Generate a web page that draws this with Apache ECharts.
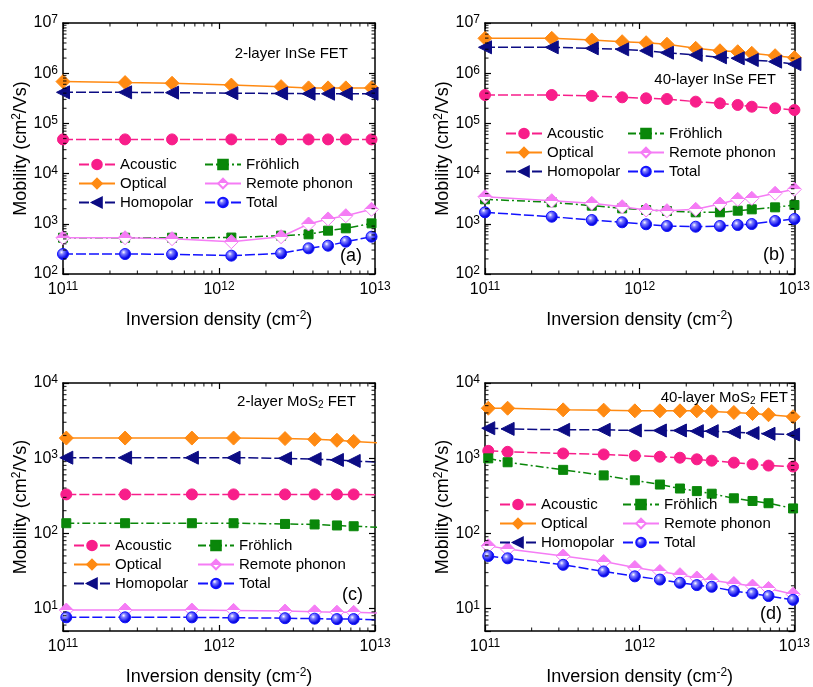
<!DOCTYPE html>
<html><head><meta charset="utf-8">
<script src="https://cdn.jsdelivr.net/npm/echarts@6/dist/echarts.min.js"></script>
<style>html,body{margin:0;padding:0;background:#fff}#c{width:813px;height:687px}</style>
</head><body><div id="c"></div>
<script>
const FONT = 'Liberation Sans, Arial, sans-serif';
const seriesNames = ['Acoustic', 'Fröhlich', 'Optical', 'Remote phonon', 'Homopolar', 'Total'];

// (a) 2-layer InSe
const nA = [1e11, 2.5e11, 5e11, 1.2e12, 2.5e12, 3.75e12, 5e12, 6.5e12, 9.5e12];
const aAcoustic = [48000, 48000, 48000, 48000, 48000, 48000, 48000, 48000, 48000];
const aFrohlich = [528, 528, 528, 532, 580, 617, 730, 813, 1020];
const aOptical = [6.8e5, 6.5e5, 6.3e5, 5.8e5, 5.4e5, 5.1e5, 5.1e5, 5.1e5, 5.1e5];
const aRemote = [528, 528, 505, 440, 553, 990, 1250, 1450, 1945];
const aHomopolar = [4.16e5, 4.16e5, 4.1e5, 4.0e5, 3.95e5, 3.9e5, 3.9e5, 3.9e5, 3.9e5];
const aTotal = [250, 250, 247, 232, 258, 325, 366, 440, 553];

// (b) 40-layer InSe
const nB = [1e11, 2.7e11, 4.9e11, 7.7e11, 1.1e12, 1.5e12, 2.3e12, 3.3e12, 4.3e12, 5.3e12, 7.5e12, 1e13];
const bAcoustic = [3.68e5, 3.68e5, 3.52e5, 3.31e5, 3.16e5, 3.06e5, 2.71e5, 2.51e5, 2.33e5, 2.15e5, 2.0e5, 1.85e5];
const bFrohlich = [3076, 2680, 2296, 2033, 1882, 1797, 1694, 1694, 1824, 1941, 2128, 2365];
const bOptical = [4.95e6, 4.95e6, 4.58e6, 4.24e6, 4.05e6, 3.77e6, 3.13e6, 2.8e6, 2.68e6, 2.49e6, 2.23e6, 2.04e6];
const bRemote = [3467, 2884, 2557, 2193, 1882, 1824, 1941, 2477, 3076, 3222, 4055, 4870];
const bHomopolar = [3.28e6, 3.28e6, 3.13e6, 2.99e6, 2.8e6, 2.56e6, 2.31e6, 2.07e6, 1.98e6, 1.83e6, 1.7e6, 1.52e6];
const bTotal = [1694, 1384, 1190, 1072, 978, 904, 875, 904, 946, 990, 1137, 1248];

// (c) 2-layer MoS2
const nC = [1.05e11, 2.5e11, 6.7e11, 1.24e12, 2.65e12, 4.1e12, 5.7e12, 7.3e12, 1.15e13];
const cAcoustic = [329, 329, 329, 329, 329, 329, 329, 329, 325];
const cFrohlich = [136, 136, 136, 136, 133, 131, 127, 124, 119];
const cOptical = [1850, 1850, 1850, 1850, 1820, 1780, 1730, 1670, 1580];
const cRemote = [9.5, 9.5, 9.5, 9.4, 9.2, 9.0, 8.9, 8.85, 8.6];
const cHomopolar = [1014, 1014, 1014, 1014, 993, 973, 945, 917, 875];
const cTotal = [7.6, 7.6, 7.6, 7.5, 7.4, 7.3, 7.2, 7.2, 7.0];

// (d) 40-layer MoS2
const nD = [1.05e11, 1.4e11, 3.2e11, 5.85e11, 9.3e11, 1.35e12, 1.82e12, 2.34e12, 2.92e12, 4.06e12, 5.36e12, 6.8e12, 9.8e12];
const dAcoustic = [1250, 1213, 1153, 1120, 1076, 1044, 1013, 964, 925, 871, 828, 796, 773];
const dFrohlich = [993, 881, 698, 589, 507, 445, 394, 364, 336, 292, 269, 251, 214];
const dOptical = [4615, 4615, 4390, 4350, 4260, 4260, 4260, 4260, 4175, 4050, 3930, 3780, 3555];
const dRemote = [68, 61.5, 49.8, 42, 35, 31, 28.1, 25.4, 23.7, 21.4, 19.8, 18.4, 15.4];
const dHomopolar = [2500, 2450, 2380, 2380, 2333, 2333, 2333, 2285, 2285, 2218, 2153, 2110, 2066];
const dTotal = [49.8, 46.4, 38, 31, 26.7, 24.2, 21.9, 20.4, 19.4, 17, 15.8, 14.6, 13];

// axis ranges and minor tick multipliers
const xRange = [1e11, 1e13];
const yRangeInSe = [1e2, 1e7];
const yRangeMoS2 = [5, 1e4];
const minorMult = [2, 3, 4, 5, 6, 7, 8, 9];
const xDecades = [1e11, 1e12];
const yDecadesInSe = [1e2, 1e3, 1e4, 1e5, 1e6];
const yDecadesMoS2 = [1, 10, 100, 1000];

function minorTicks(decades, lo, hi) {
  const out = [];
  decades.forEach(d => minorMult.forEach(m => { const v = d * m; if (v > lo * 1.0001 && v < hi * 0.9999) out.push(v); }));
  return out;
}

const pink = '#f81e8a', green = '#0a870a', orange = '#ff8a12', violet = '#f57cf5', navy = '#0c0c84', blue = '#1212ff';
const styles = {
  'Acoustic': { color: pink, fill: pink, symbol: 'circle', size: 11, dash: [10, 3] },
  'Fröhlich': { color: green, fill: green, symbol: 'rect', size: 9, dash: [8, 3, 2, 3] },
  'Optical': { color: orange, fill: orange, symbol: 'diamond', size: 14, dash: 'solid' },
  'Remote phonon': { color: violet, fill: { type: 'linear', x: 0, y: 0, x2: 0, y2: 1, colorStops: [
      { offset: 0, color: violet }, { offset: 0.5, color: violet }, { offset: 0.5, color: '#ffffff' }, { offset: 1, color: '#ffffff' }] },
    symbol: 'diamond', size: 14, dash: 'solid' },
  'Homopolar': { color: navy, fill: navy, symbol: 'triangle', size: 13, rotate: 90, dash: [10, 3] },
  'Total': { color: blue, fill: { type: 'radial', x: 0.38, y: 0.35, r: 0.7, colorStops: [
      { offset: 0, color: '#ffffff' }, { offset: 0.25, color: '#8080ff' }, { offset: 0.7, color: '#1010ee' }, { offset: 1, color: '#0000b0' }] },
    symbol: 'circle', size: 11, dash: [10, 3] }
};

const panels = [
  { n: nA, vals: [aAcoustic, aFrohlich, aOptical, aRemote, aHomopolar, aTotal], yr: yRangeInSe, yd: yDecadesInSe,
    grid: { left: 63, top: 23, width: 312, height: 251 },
    title: '{t|2-layer InSe FET}', tPos: { right: 465, top: 46 }, tag: '(a)', tagPos: { right: 451, top: 247 },
    leg1: { left: 78, top: 157 }, leg2: { left: 204, top: 157 } },
  { n: nB, vals: [bAcoustic, bFrohlich, bOptical, bRemote, bHomopolar, bTotal], yr: yRangeInSe, yd: yDecadesInSe,
    grid: { left: 485, top: 23, width: 313, height: 251 },
    title: '{t|40-layer InSe FET}', tPos: { right: 37, top: 72 }, tag: '(b)', tagPos: { right: 28, top: 246 },
    leg1: { left: 505, top: 126 }, leg2: { left: 627, top: 126 } },
  { n: nC, vals: [cAcoustic, cFrohlich, cOptical, cRemote, cHomopolar, cTotal], yr: yRangeMoS2, yd: yDecadesMoS2,
    grid: { left: 63, top: 383, width: 312, height: 251 },
    title: '{t|2-layer MoS}{sub|2}{t| FET}', tPos: { right: 457, top: 393 }, tag: '(c)', tagPos: { right: 450, top: 586 },
    leg1: { left: 73, top: 538 }, leg2: { left: 197, top: 538 } },
  { n: nD, vals: [dAcoustic, dFrohlich, dOptical, dRemote, dHomopolar, dTotal], yr: yRangeMoS2, yd: yDecadesMoS2,
    grid: { left: 485, top: 383, width: 313, height: 251 },
    title: '{t|40-layer MoS}{sub|2}{t| FET}', tPos: { right: 25, top: 389 }, tag: '(d)', tagPos: { right: 31, top: 605 },
    leg1: { left: 499, top: 497 }, leg2: { left: 622, top: 497 } }
];

const richTick = {
  b: { fontSize: 16, fontFamily: FONT, color: '#000' },
  s: { fontSize: 12, fontFamily: FONT, color: '#000', verticalAlign: 'top', padding: [0, 0, 6, 0] }
};
function powFmt(v) {
  const l = Math.log10(v), e = Math.round(l);
  if (Math.abs(l - e) > 1e-6) return '';
  return '{b|10}{s|' + e + '}';
}
const richName = {
  t: { fontSize: 18, fontFamily: FONT, color: '#000' },
  s: { fontSize: 12, fontFamily: FONT, color: '#000', padding: [0, 0, 8, 0] }
};

const option = { animation: false, backgroundColor: '#fff', grid: [], xAxis: [], yAxis: [], series: [], title: [], legend: [] };
const axisLine = { show: true, onZero: false, lineStyle: { color: '#000', width: 1.5 } };
const axisTick = { show: true, inside: true, length: 6, lineStyle: { color: '#000', width: 1.2 } };

panels.forEach((p, pi) => {
  option.grid.push(Object.assign({ containLabel: false }, p.grid));
  option.xAxis.push({ type: 'log', logBase: 10, gridIndex: pi, min: xRange[0], max: xRange[1], position: 'bottom',
    axisLine, axisTick, splitLine: { show: false },
    axisLabel: { formatter: powFmt, rich: richTick, margin: 7, showMinLabel: true, showMaxLabel: true },
    name: '{t|Inversion density (cm}{s|-2}{t|)}', nameLocation: 'middle', nameGap: 36,
    nameTextStyle: { rich: richName } });
  option.xAxis.push({ type: 'log', logBase: 10, gridIndex: pi, min: xRange[0], max: xRange[1], position: 'top',
    axisLine, axisTick, axisLabel: { show: false }, splitLine: { show: false } });
  option.yAxis.push({ type: 'log', logBase: 10, gridIndex: pi, min: p.yr[0], max: p.yr[1], position: 'left',
    axisLine, axisTick, splitLine: { show: false },
    axisLabel: { formatter: powFmt, rich: richTick, margin: 5 },
    name: '{t|Mobility (cm}{s|2}{t|/Vs)}', nameLocation: 'middle', nameGap: 30, nameRotate: 90,
    nameTextStyle: { rich: richName } });
  option.yAxis.push({ type: 'log', logBase: 10, gridIndex: pi, min: p.yr[0], max: p.yr[1], position: 'right',
    axisLine, axisTick, axisLabel: { show: false }, splitLine: { show: false } });

  const xi = pi * 2, yi = pi * 2;
  seriesNames.forEach((name, si) => {
    const st = styles[name];
    option.series.push({
      type: 'line', name, xAxisIndex: xi, yAxisIndex: yi,
      data: p.n.map((x, i) => [x, p.vals[si][i]]),
      symbol: st.symbol, symbolSize: st.size, symbolRotate: st.rotate || 0, showAllSymbol: true,
      lineStyle: { color: st.color, width: 1.5, type: st.dash },
      itemStyle: { color: st.fill, borderColor: st.color, borderWidth: 1 },
      emphasis: { disabled: true }, clip: true, z: 3 + si * 0.01
    });
  });

  const xm = minorTicks(xDecades, xRange[0], xRange[1]);
  const ym = minorTicks(p.yd, p.yr[0], p.yr[1]);
  const tickSeries = (data, size, off) => ({ type: 'scatter', xAxisIndex: xi, yAxisIndex: yi, data, symbol: 'rect',
    symbolSize: size, symbolOffset: off, itemStyle: { color: '#000' }, silent: true, clip: false, z: 6 });
  option.series.push(tickSeries(xm.map(v => [v, p.yr[0]]), [1.2, 3.5], [0, -1.75]));
  option.series.push(tickSeries(xm.map(v => [v, p.yr[1]]), [1.2, 3.5], [0, 1.75]));
  option.series.push(tickSeries(ym.map(v => [xRange[0], v]), [3.5, 1.2], [1.75, 0]));
  option.series.push(tickSeries(ym.map(v => [xRange[1], v]), [3.5, 1.2], [-1.75, 0]));

  option.title.push(Object.assign({ text: p.title, padding: 0,
    textStyle: { fontSize: 15, fontWeight: 'normal', fontFamily: FONT, color: '#000',
      rich: { t: { fontSize: 15, fontFamily: FONT, color: '#000' },
              sub: { fontSize: 10, fontFamily: FONT, color: '#000', verticalAlign: 'bottom', padding: [7, 0, 0, 0] } } } }, p.tPos));
  option.title.push(Object.assign({ text: p.tag, padding: 0,
    textStyle: { fontSize: 18, fontWeight: 'normal', fontFamily: FONT, color: '#000' } }, p.tagPos));

  const legBase = { orient: 'vertical', itemWidth: 36, itemHeight: 12, itemGap: 4, padding: 0, selectedMode: false,
    textStyle: { fontSize: 15, fontFamily: FONT, color: '#000', padding: [0, 0, 0, 0] } };
  option.legend.push(Object.assign({}, legBase, p.leg1, { data: ['Acoustic', 'Optical', 'Homopolar'] }));
  option.legend.push(Object.assign({}, legBase, p.leg2, { data: ['Fröhlich', 'Remote phonon', 'Total'] }));
});

const chart = echarts.init(document.getElementById('c'), null, { renderer: 'canvas' });
chart.setOption(option);
</script>
</body></html>
